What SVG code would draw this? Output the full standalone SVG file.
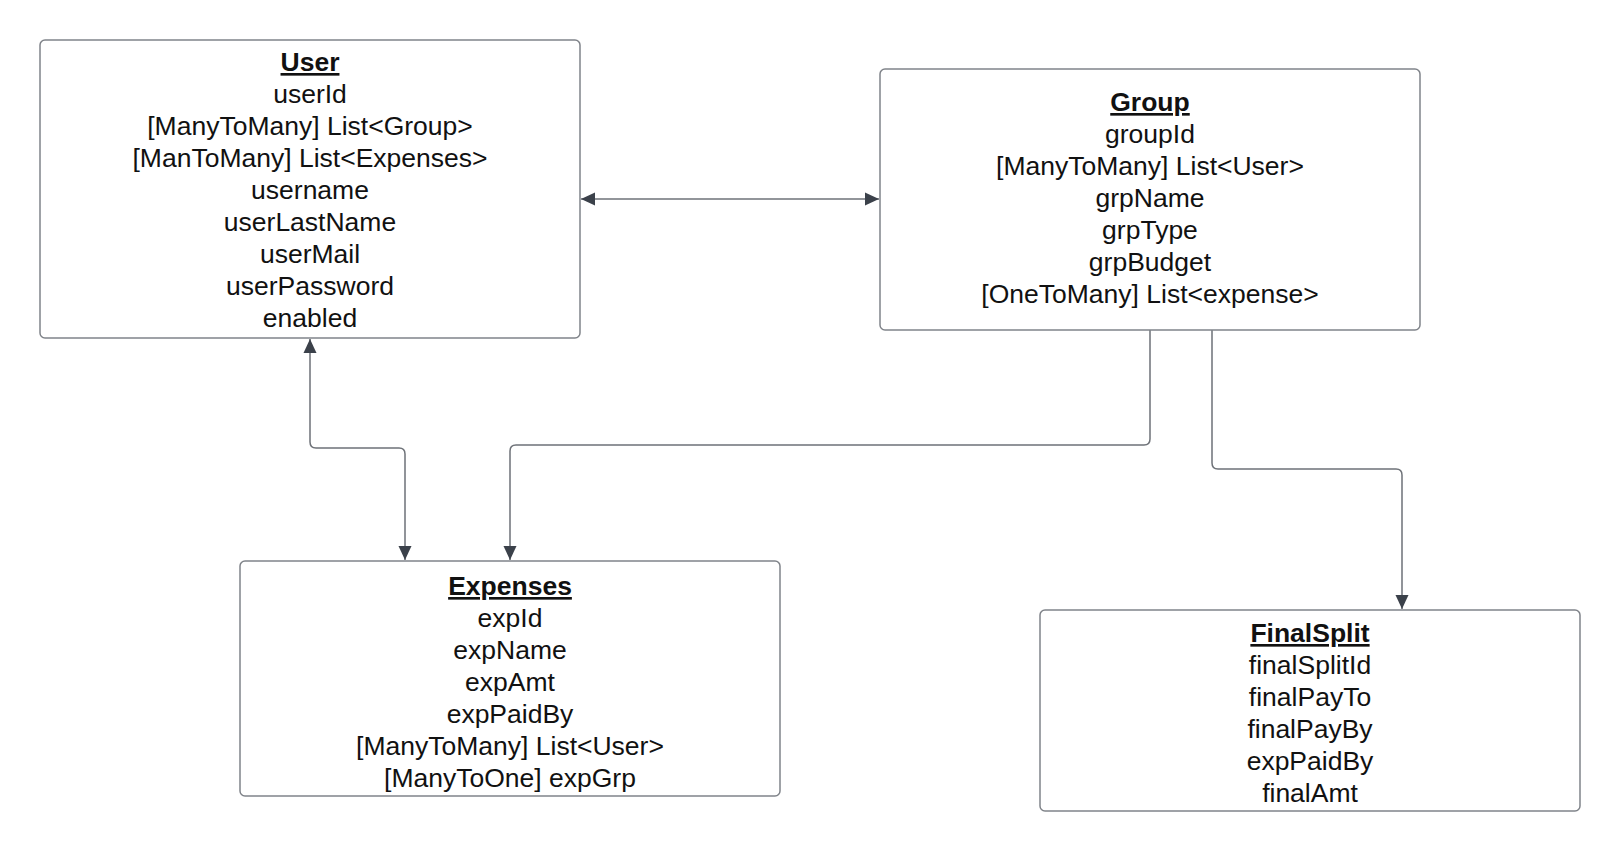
<svg xmlns="http://www.w3.org/2000/svg" width="1620" height="851" viewBox="0 0 1620 851">
<style>
.box{fill:#ffffff;stroke:#80848a;stroke-width:1.5}
.t{font-family:"Liberation Sans",Arial,sans-serif;font-size:26.5px;fill:#111111;text-anchor:middle}
.h{font-weight:bold;text-decoration:underline}
.c{fill:none;stroke:#6e7278;stroke-width:1.5}
</style>
<defs>
<marker id="ah" viewBox="0 0 14 14" refX="14" refY="7" markerWidth="14" markerHeight="14" markerUnits="userSpaceOnUse" orient="auto-start-reverse">
<path d="M0,0.5 L14,7 L0,13.5 Z" fill="#3b414a"/>
</marker>
</defs>
<rect width="1620" height="851" fill="#ffffff"/>
<g id="connectors">
<path class="c" d="M581,199 H879" marker-start="url(#ah)" marker-end="url(#ah)"/>
<path class="c" d="M310,339 V442 Q310,448 316,448 H399 Q405,448 405,454 V560" marker-start="url(#ah)" marker-end="url(#ah)"/>
<path class="c" d="M1150,330 V439 Q1150,445 1144,445 H516 Q510,445 510,451 V560" marker-end="url(#ah)"/>
<path class="c" d="M1212,330 V463 Q1212,469 1218,469 H1396 Q1402,469 1402,475 V609" marker-end="url(#ah)"/>
</g>
<g id="user">
<rect class="box" x="40" y="40" width="540" height="298" rx="5"/>
<text class="t h" x="310" y="71">User</text>
<text class="t" x="310" y="103">userId</text>
<text class="t" x="310" y="135">[ManyToMany] List&lt;Group&gt;</text>
<text class="t" x="310" y="167">[ManToMany] List&lt;Expenses&gt;</text>
<text class="t" x="310" y="199">username</text>
<text class="t" x="310" y="231">userLastName</text>
<text class="t" x="310" y="263">userMail</text>
<text class="t" x="310" y="295">userPassword</text>
<text class="t" x="310" y="327">enabled</text>
</g>
<g id="group">
<rect class="box" x="880" y="69" width="540" height="261" rx="5"/>
<text class="t h" x="1150" y="111">Group</text>
<text class="t" x="1150" y="143">groupId</text>
<text class="t" x="1150" y="175">[ManyToMany] List&lt;User&gt;</text>
<text class="t" x="1150" y="207">grpName</text>
<text class="t" x="1150" y="239">grpType</text>
<text class="t" x="1150" y="271">grpBudget</text>
<text class="t" x="1150" y="303">[OneToMany] List&lt;expense&gt;</text>
</g>
<g id="expenses">
<rect class="box" x="240" y="561" width="540" height="235" rx="5"/>
<text class="t h" x="510" y="595">Expenses</text>
<text class="t" x="510" y="627">expId</text>
<text class="t" x="510" y="659">expName</text>
<text class="t" x="510" y="691">expAmt</text>
<text class="t" x="510" y="723">expPaidBy</text>
<text class="t" x="510" y="755">[ManyToMany] List&lt;User&gt;</text>
<text class="t" x="510" y="787">[ManyToOne] expGrp</text>
</g>
<g id="finalsplit">
<rect class="box" x="1040" y="610" width="540" height="201" rx="5"/>
<text class="t h" x="1310" y="642">FinalSplit</text>
<text class="t" x="1310" y="674">finalSplitId</text>
<text class="t" x="1310" y="706">finalPayTo</text>
<text class="t" x="1310" y="738">finalPayBy</text>
<text class="t" x="1310" y="770">expPaidBy</text>
<text class="t" x="1310" y="802">finalAmt</text>
</g>
</svg>
